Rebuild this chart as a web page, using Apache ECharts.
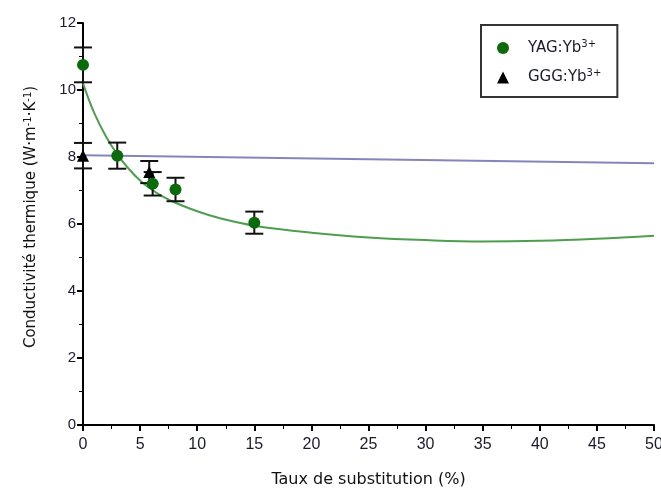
<!DOCTYPE html>
<html><head><meta charset="utf-8">
<script src="https://cdn.jsdelivr.net/npm/echarts@6/dist/echarts.min.js"></script>
<style>html,body{margin:0;padding:0;background:#fff}#c{width:661px;height:493px}</style>
</head><body><div id="c"></div>
<script>
// Measured data
var yagX = [0, 3, 6.1, 8.1, 15];
var yagY = [10.75, 8.04, 7.2, 7.03, 6.04];
var yagErr = [0.52, 0.39, 0.35, 0.35, 0.33];
var gggX = [0, 5.8];
var gggY = [8.04, 7.55];
var gggErr = [0.38, 0.33];
// Fit curves
var yagFitX = [0, 1, 2, 3, 4, 5, 6, 7, 8, 10, 12, 15, 20, 25, 30, 35, 40, 45, 50];
var yagFitY = [10.2, 9.3, 8.62, 8.08, 7.65, 7.3, 7.03, 6.82, 6.65, 6.38, 6.17, 5.95, 5.74, 5.6, 5.52, 5.48, 5.5, 5.56, 5.65];
var gggFitX = [0, 50];
var gggFitY = [8.05, 7.81];
var xTicks = [0, 5, 10, 15, 20, 25, 30, 35, 40, 45, 50];
var yTicks = [0, 2, 4, 6, 8, 10, 12];

var FONT = "'DejaVu Sans',Verdana,sans-serif";
var TFONT = "'Liberation Sans',Arial,sans-serif";
function zip(a, b) { return a.map(function (v, i) { return [v, b[i]]; }); }
function errData(xs, ys, es) { return xs.map(function (v, i) { return [v, ys[i] - es[i], ys[i] + es[i]]; }); }
function errRender(params, api) {
  var x = api.value(0), lo = api.value(1), hi = api.value(2);
  var p1 = api.coord([x, hi]), p2 = api.coord([x, lo]);
  var w = 9;
  var st = { stroke: '#111', lineWidth: 2 };
  return { type: 'group', children: [
    { type: 'line', shape: { x1: p1[0], y1: p1[1], x2: p2[0], y2: p2[1] }, style: st },
    { type: 'line', shape: { x1: p1[0] - w, y1: p1[1], x2: p1[0] + w, y2: p1[1] }, style: st },
    { type: 'line', shape: { x1: p2[0] - w, y1: p2[1], x2: p2[0] + w, y2: p2[1] }, style: st }
  ]};
}
var chart = echarts.init(document.getElementById('c'));
chart.setOption({
  animation: false,
  grid: { left: 83, right: 7, top: 23, bottom: 68, outerBoundsMode: 'none', containLabel: false },
  xAxis: {
    type: 'value', min: xTicks[0], max: xTicks[xTicks.length - 1], interval: 5,
    name: 'Taux de substitution (%)', nameLocation: 'middle', nameGap: 47,
    nameTextStyle: { color: '#111', fontSize: 16, fontFamily: FONT },
    axisLine: { lineStyle: { color: '#000', width: 2 } },
    axisTick: { length: 6, lineStyle: { color: '#000', width: 2 } },
    minorTick: { show: true, splitNumber: 2, length: 4, lineStyle: { color: '#000', width: 1 } },
    splitLine: { show: false },
    axisLabel: { margin: 12, color: '#1a1a2e', fontSize: 16, fontFamily: TFONT }
  },
  yAxis: {
    type: 'value', min: yTicks[0], max: yTicks[yTicks.length - 1], interval: 2,
    name: 'Conductivité thermique (W·m{s|-1}·K{s|-1})', nameLocation: 'middle', nameGap: 44,
    nameTextStyle: { color: '#111', fontSize: 15, fontFamily: FONT, padding: [0, 0, 0, 14], rich: { s: { fontSize: 10, verticalAlign: 'top', color: '#111', fontFamily: FONT, padding: [0, 0, 6, 0] } } },
    axisLine: { show: true, lineStyle: { color: '#000', width: 2 } },
    axisTick: { show: true, length: 6, lineStyle: { color: '#000', width: 2 } },
    minorTick: { show: true, splitNumber: 2, length: 4, lineStyle: { color: '#000', width: 1 } },
    splitLine: { show: false },
    axisLabel: { margin: 7, color: '#1a1a2e', fontSize: 15, fontFamily: TFONT }
  },
  legend: {
    left: 481, top: 25, orient: 'vertical',
    data: [{ name: 'YAG:Yb3+', icon: 'circle' }, { name: 'GGG:Yb3+', icon: 'triangle' }],
    borderColor: '#333', borderWidth: 2, padding: [14, 16, 12, 16], itemGap: 13,
    itemWidth: 12, itemHeight: 12,
    formatter: function (n) { return '{t|' + n.replace('3+', '') + '}{s|3+}'; },
    textStyle: { rich: { t: { fontSize: 15, color: '#1a1a2e', fontFamily: FONT, padding: [0, 0, 0, 14] }, s: { fontSize: 10, color: '#1a1a2e', fontFamily: FONT, verticalAlign: 'top', padding: [0, 0, 8, 0] } } }
  },
  series: [
    { name: 'fitGGG', type: 'line', data: zip(gggFitX, gggFitY), showSymbol: false, lineStyle: { color: '#8585bb', width: 2 }, z: 1 },
    { name: 'fitYAG', type: 'line', data: zip(yagFitX, yagFitY), smooth: 0.4, showSymbol: false, lineStyle: { color: '#4f9e4f', width: 2 }, z: 1 },
    { name: 'errYAG', type: 'custom', renderItem: errRender, data: errData(yagX, yagY, yagErr), z: 2 },
    { name: 'errGGG', type: 'custom', renderItem: errRender, data: errData(gggX, gggY, gggErr), z: 2 },
    { name: 'GGG:Yb3+', type: 'scatter', symbol: 'triangle', symbolSize: 12, data: zip(gggX, gggY), itemStyle: { color: '#000', opacity: 1 }, z: 3 },
    { name: 'YAG:Yb3+', type: 'scatter', symbol: 'circle', symbolSize: 12, data: zip(yagX, yagY), itemStyle: { color: '#0b6b0b', opacity: 1 }, z: 4 }
  ]
});
</script></body></html>
